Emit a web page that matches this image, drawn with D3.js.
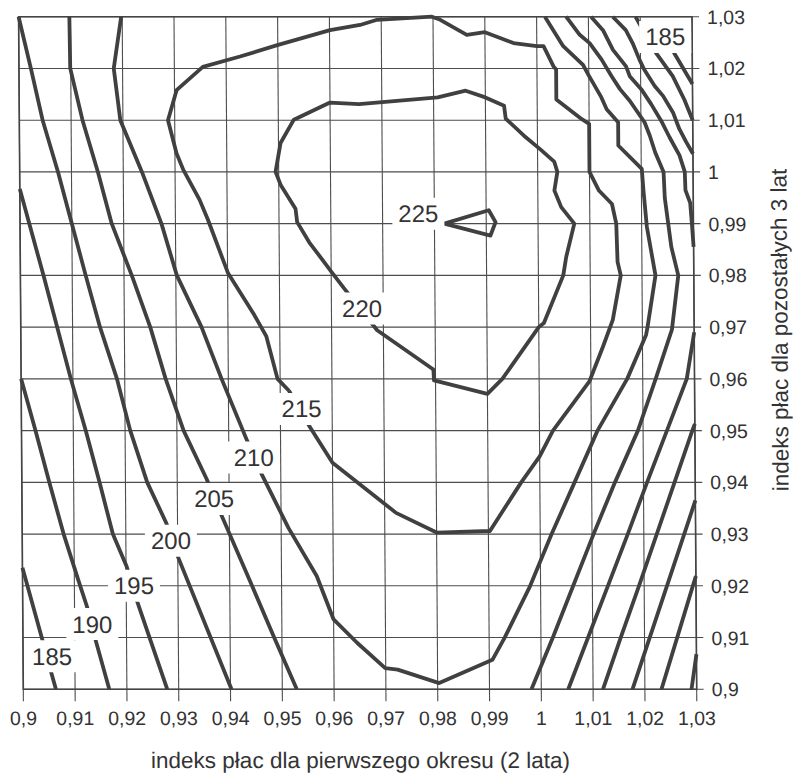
<!DOCTYPE html>
<html><head><meta charset="utf-8">
<script src="https://cdn.jsdelivr.net/npm/d3@7/dist/d3.min.js"></script>
<style>body{margin:0;background:#fff}svg{display:block}</style>
</head><body>
<svg id="chart" width="798" height="774"></svg>
<script>
// ---- data ----
const xTicks = [0.90,0.91,0.92,0.93,0.94,0.95,0.96,0.97,0.98,0.99,1.00,1.01,1.02,1.03];
const xTickLabels = ["0,9","0,91","0,92","0,93","0,94","0,95","0,96","0,97","0,98","0,99","1","1,01","1,02","1,03"];
const yTicks = [0.90,0.91,0.92,0.93,0.94,0.95,0.96,0.97,0.98,0.99,1.00,1.01,1.02,1.03];
const yTickLabels = ["0,9","0,91","0,92","0,93","0,94","0,95","0,96","0,97","0,98","0,99","1","1,01","1,02","1,03"];
const xTitle = "indeks płac dla pierwszego okresu (2 lata)";
const yTitle = "indeks płac dla pozostałych 3 lat";

// contour lines, [x, y] pairs
const c180 = [
  [[1.029,0.9],[1.03,0.9068]]
];
const c185 = [
  [[0.9,0.9235],[0.9035,0.9105],[0.9054,0.9033],[0.9063,0.9]],
  [[1.0232,0.9],[1.0263,0.91],[1.0294,0.92],[1.03,0.9219]],
  [[1.025,1.027],[1.0265,1.023],[1.03,1.017]]
];
const c190 = [
  [[0.9,0.96],[0.9027,0.95],[0.9053,0.94],[0.908,0.93],[0.9108,0.921],[0.9124,0.916],[0.914,0.9096],[0.9166,0.9]],
  [[1.0176,0.9],[1.021,0.91],[1.0244,0.92],[1.0278,0.93],[1.03,0.9365]],
  [[1.0191,1.03],[1.023,1.023],[1.0262,1.0185],[1.0284,1.014],[1.03,1.01]]
];
const c195 = [
  [[0.9,0.9967],[0.9044,0.9802],[0.9096,0.96],[0.9124,0.95],[0.915,0.94],[0.9175,0.93],[0.9201,0.9238],[0.922,0.9173],[0.9278,0.9]],
  [[1.0119,0.9],[1.0154,0.91],[1.019,0.92],[1.0225,0.93],[1.026,0.94],[1.0295,0.95],[1.03,0.9513]],
  [[1.0147,1.03],[1.0172,1.0274],[1.0185,1.0249],[1.0198,1.0217],[1.0207,1.0198],[1.0227,1.0166],[1.0243,1.0147],[1.0262,1.0115],[1.0274,1.0083],[1.0287,1.0058],[1.03,1.0035]]
];
const c200 = [
  [[0.9,1.03],[0.9023,1.02],[0.9045,1.01],[0.9074,1.0],[0.91,0.99],[0.9126,0.98],[0.9153,0.97],[0.9185,0.96],[0.921,0.95],[0.9242,0.94],[0.9278,0.9322],[0.93,0.9257],[0.9402,0.9]],
  [[1.0052,0.9],[1.0091,0.91],[1.013,0.92],[1.0169,0.93],[1.0207,0.94],[1.0246,0.95],[1.0285,0.96],[1.03,0.969]],
  [[1.03,0.9855],[1.0297,0.99],[1.0294,0.994],[1.0285,0.9965],[1.0284,1.0],[1.0274,1.0032],[1.0255,1.0067],[1.0239,1.0099],[1.022,1.0131],[1.0201,1.016],[1.0179,1.0185],[1.0172,1.0204],[1.0147,1.0236],[1.0128,1.0274],[1.0105,1.03]]
];
const c205 = [
  [[0.9098,1.03],[0.9099,1.02],[0.9122,1.01],[0.9151,1.0],[0.9177,0.99],[0.9215,0.98],[0.925,0.97],[0.9279,0.96],[0.9313,0.95],[0.9357,0.9406],[0.9383,0.9341],[0.9443,0.92],[0.9485,0.91],[0.9528,0.9]],
  [[0.9981,0.9],[1.0023,0.91],[1.0063,0.92],[1.0103,0.93],[1.0145,0.94],[1.019,0.95],[1.0225,0.96],[1.0257,0.9695],[1.027,0.98],[1.0257,0.9855],[1.0245,0.995],[1.0243,1.0],[1.0227,1.0038],[1.0217,1.007],[1.0207,1.0096],[1.0179,1.0137],[1.016,1.016],[1.0144,1.0185],[1.0125,1.0217],[1.0102,1.0249],[1.0083,1.0265],[1.0057,1.03]]
];
const c210 = [
  [[0.9198,1.03],[0.9183,1.02],[0.9195,1.01],[0.9236,1.0],[0.9273,0.99],[0.9302,0.98],[0.9349,0.97],[0.9387,0.96],[0.9434,0.9484],[0.9463,0.9416],[0.9514,0.9312],[0.9568,0.9219],[0.96,0.9135],[0.9645,0.909],[0.9699,0.9041],[0.9723,0.9038],[0.9803,0.9012],[0.9906,0.9057],[0.993,0.91],[0.998,0.92],[1.0022,0.93],[1.0067,0.94],[1.0112,0.95],[1.017,0.96],[1.0207,0.9685],[1.021,0.97],[1.0226,0.98],[1.021,0.9894],[1.0204,0.9964],[1.0201,1.0006],[1.0156,1.0051],[1.0156,1.0096],[1.0134,1.0121],[1.0124,1.0144],[1.0099,1.0188],[1.0089,1.0207],[1.0051,1.0243],[1.0016,1.03]]
];
const c215 = [
  [[0.9517,0.9577],[0.9495,0.96],[0.9474,0.9682],[0.9449,0.9727],[0.9401,0.9804],[0.9363,0.9907],[0.9347,0.9946],[0.9316,1.0004],[0.9303,1.0036],[0.9287,1.01],[0.9304,1.0158],[0.9355,1.0203],[0.9427,1.0223],[0.9499,1.0245],[0.9601,1.0274],[0.9659,1.0284],[0.9692,1.0294],[0.9798,1.03],[0.9814,1.0294],[0.9865,1.0265],[0.99,1.027],[0.9955,1.0249],[1.0,1.0243],[1.0013,1.0243],[1.0032,1.0204],[1.0037,1.0198],[1.0037,1.014],[1.0086,1.0102],[1.01,1.0093],[1.01,1.0],[1.0118,0.9964],[1.0143,0.9938],[1.0151,0.99],[1.0153,0.9826],[1.0159,0.98],[1.0143,0.9714],[1.0124,0.9663],[1.0097,0.9595],[1.0026,0.95],[1.0,0.945],[0.9964,0.94],[0.9903,0.9306],[0.98,0.9303],[0.9722,0.9341],[0.96,0.9438],[0.9555,0.951],[0.9517,0.9577]]
];
const c220 = [
  [[0.9624,0.9776],[0.9602,0.9805],[0.9558,0.9864],[0.9535,0.9903],[0.9532,0.9929],[0.9504,0.9974],[0.9494,1.0],[0.9504,1.0056],[0.953,1.0101],[0.96,1.0134],[0.9656,1.0131],[0.9808,1.0144],[0.9862,1.0157],[0.99,1.0144],[0.9936,1.0128],[0.9939,1.0103],[0.9974,1.007],[1.0006,1.0043],[1.0032,1.002],[1.0038,1.0],[1.0032,0.9964],[1.0045,0.9932],[1.007,0.99],[1.0054,0.9836],[1.0048,0.98],[1.001,0.9708],[1.0,0.97],[0.9929,0.96],[0.99,0.9571],[0.9797,0.9597],[0.9796,0.9618],[0.9688,0.9694],[0.9624,0.9776]]
];
const c225 = [
  [[0.9819,0.99],[0.9905,0.9926],[0.9918,0.9903],[0.9908,0.9877],[0.9819,0.99]]
];
const contourLevels = [180,185,190,195,200,205,210,215,220,225];
const contourLines = [c180,c185,c190,c195,c200,c205,c210,c215,c220,c225];

// contour labels: level and anchor point [x, y]
const labelLevels = [185,190,195,200,205,210,215,220,225,185];
const labelX = [0.9056,0.9134,0.9215,0.9287,0.9371,0.9448,0.9541,0.9659,0.9769,1.0248];
const labelY = [0.9064,0.9126,0.9200,0.9287,0.9368,0.9448,0.9542,0.9736,0.9919,1.0261];

// ---- drawing ----
const W = 798, H = 774;
const FONT = "'Liberation Sans', Arial, Helvetica, sans-serif";
const x = d3.scaleLinear().domain([0.90,1.03]).range([23.3,696.7]);
const y = d3.scaleLinear().domain([0.90,1.03]).range([689.3,16.7]);

const svg = d3.select("#chart");
svg.append("rect").attr("width",W).attr("height",H).attr("fill","#fff");

// the scanned original is slightly sheared (top edge a few px left of bottom)
const k = 0.007;
const g = svg.append("g")
  .attr("transform", `translate(${-k*689.3},0) skewX(${Math.atan(k)*180/Math.PI})`);

const gridColor = "#4d4d4d";
// grid (vertical)
g.append("g").selectAll("line").data(xTicks).join("line")
  .attr("x1",d=>x(d)).attr("x2",d=>x(d))
  .attr("y1",y(1.03)).attr("y2",y(0.90)+12)
  .attr("stroke",gridColor).attr("stroke-width",1.1);
// grid (horizontal)
g.append("g").selectAll("line").data(yTicks).join("line")
  .attr("x1",x(0.90)).attr("x2",x(1.03)+7)
  .attr("y1",d=>y(d)).attr("y2",d=>y(d))
  .attr("stroke",gridColor).attr("stroke-width",1.1);
// border emphasis
g.append("rect").attr("x",x(0.90)).attr("y",y(1.03))
  .attr("width",x(1.03)-x(0.90)).attr("height",y(0.90)-y(1.03))
  .attr("fill","none").attr("stroke","#444").attr("stroke-width",1.6);

// contours
const line = d3.line().x(d=>x(d[0])).y(d=>y(d[1]));
const cg = g.append("g");
contourLines.forEach((segs,i)=>{
  cg.selectAll(null).data(segs).join("path")
    .attr("class","c"+contourLevels[i])
    .attr("d",line)
    .attr("fill","none").attr("stroke","#404040")
    .attr("stroke-width",3.8).attr("stroke-linejoin","round").attr("stroke-linecap","butt");
});

// labels with white boxes
const lg = g.append("g");
labelLevels.forEach((lv,i)=>{
  const cx = x(labelX[i]), cy = y(labelY[i]);
  lg.append("rect").attr("x",cx-26).attr("y",cy-16).attr("width",52).attr("height",32).attr("fill","#fff");
  lg.append("text").attr("x",cx).attr("y",cy+8.5)
    .attr("text-anchor","middle").attr("font-family",FONT).attr("font-size",24)
    .attr("fill","#333").text(lv);
});

// tick labels
g.append("g").selectAll("text").data(xTicks).join("text")
  .attr("x",d=>x(d)).attr("y",725)
  .attr("text-anchor","middle").attr("font-family",FONT).attr("font-size",19.5)
  .attr("fill","#333").text((d,i)=>xTickLabels[i]);
g.append("g").selectAll("text").data(yTicks).join("text")
  .attr("x",x(1.03)+15).attr("y",d=>y(d)+7)
  .attr("text-anchor","start").attr("font-family",FONT).attr("font-size",19.5)
  .attr("fill","#333").text((d,i)=>yTickLabels[i]);

// axis titles
g.append("text").attr("x",(x(0.90)+x(1.03))/2).attr("y",768)
  .attr("text-anchor","middle").attr("font-family",FONT).attr("font-size",22.5)
  .attr("fill","#333").text(xTitle);
g.append("text").attr("transform","translate(790,330) rotate(-90)")
  .attr("text-anchor","middle").attr("font-family",FONT).attr("font-size",22.5)
  .attr("fill","#333").text(yTitle);
</script>
</body></html>
